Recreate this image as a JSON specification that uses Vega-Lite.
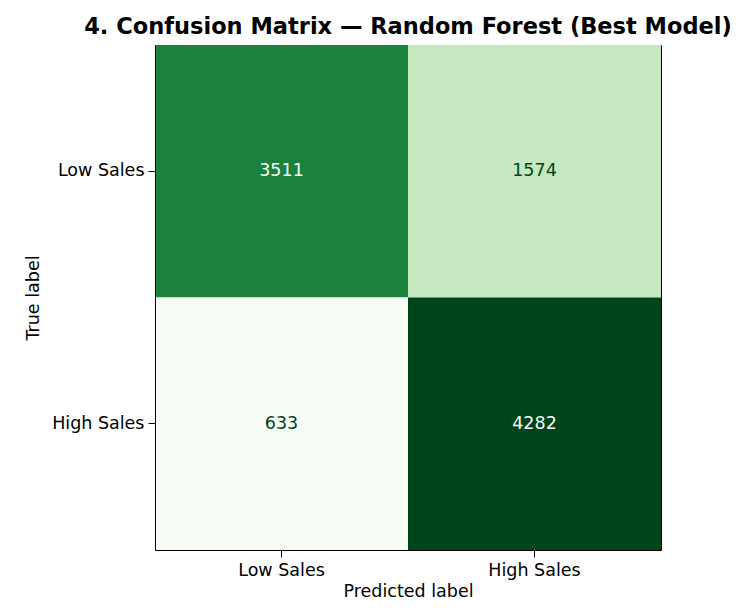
{
  "$schema": "https://vega.github.io/schema/vega-lite/v6.json",
  "autosize": {"type": "none"},
  "padding": {"left": 155, "top": 45, "right": 75, "bottom": 63},
  "width": 506,
  "height": 505,
  "background": "white",
  "title": {
    "text": "4. Confusion Matrix — Random Forest (Best Model)",
    "font": "DejaVu Sans",
    "fontSize": 22.5,
    "fontWeight": "bold",
    "color": "black",
    "anchor": "middle",
    "offset": 7
  },
  "data": {
    "values": [
      {"true_label": "Low Sales", "predicted": "Low Sales", "count": 3511},
      {"true_label": "Low Sales", "predicted": "High Sales", "count": 1574},
      {"true_label": "High Sales", "predicted": "Low Sales", "count": 633},
      {"true_label": "High Sales", "predicted": "High Sales", "count": 4282}
    ]
  },
  "layer": [
    {
      "mark": {"type": "rect"},
      "encoding": {
        "x": {
          "field": "predicted",
          "type": "nominal",
          "sort": ["Low Sales", "High Sales"],
          "scale": {"paddingInner": 0, "paddingOuter": 0},
          "axis": {
            "title": "Predicted label",
            "labelAngle": 0,
            "labelFont": "DejaVu Sans",
            "labelFontSize": 17.5,
            "labelColor": "black",
            "labelPadding": 4,
            "titleFont": "DejaVu Sans",
            "titleFontSize": 17.5,
            "titleFontWeight": "normal",
            "titleColor": "black",
            "titlePadding": 4,
            "tickSize": 7,
            "tickColor": "black",
            "domainColor": "black",
            "grid": false
          }
        },
        "y": {
          "field": "true_label",
          "type": "nominal",
          "sort": ["Low Sales", "High Sales"],
          "scale": {"paddingInner": 0, "paddingOuter": 0},
          "axis": {
            "title": "True label",
            "labelFont": "DejaVu Sans",
            "labelFontSize": 17.5,
            "labelColor": "black",
            "labelPadding": 4,
            "titleFont": "DejaVu Sans",
            "titleFontSize": 17.5,
            "titleFontWeight": "normal",
            "titleColor": "black",
            "titlePadding": 9,
            "tickSize": 7,
            "tickColor": "black",
            "domainColor": "black",
            "grid": false
          }
        },
        "color": {
          "field": "count",
          "type": "quantitative",
          "scale": {
            "domain": [633, 1089.125, 1545.25, 2001.375, 2457.5, 2913.625, 3369.75, 3825.875, 4282],
            "range": ["#f7fcf5", "#e5f5e0", "#c7e9c0", "#a1d99b", "#74c476", "#41ab5d", "#238b45", "#006d2c", "#00441b"]
          },
          "legend": null
        }
      }
    },
    {
      "mark": {"type": "text", "font": "DejaVu Sans", "fontSize": 17.5},
      "encoding": {
        "x": {
          "field": "predicted",
          "type": "nominal",
          "sort": ["Low Sales", "High Sales"],
          "axis": {
            "orient": "top",
            "title": null,
            "labels": false,
            "ticks": false,
            "grid": false,
            "domainColor": "black"
          }
        },
        "y": {
          "field": "true_label",
          "type": "nominal",
          "sort": ["Low Sales", "High Sales"],
          "axis": {
            "orient": "right",
            "title": null,
            "labels": false,
            "ticks": false,
            "grid": false,
            "domainColor": "black"
          }
        },
        "text": {"field": "count", "type": "quantitative"},
        "color": {
          "condition": {"test": "datum.count > 2457.5", "value": "#f7fcf5"},
          "value": "#00441b"
        }
      }
    }
  ],
  "resolve": {"axis": {"x": "independent", "y": "independent"}},
  "config": {
    "view": {"stroke": null}
  }
}
